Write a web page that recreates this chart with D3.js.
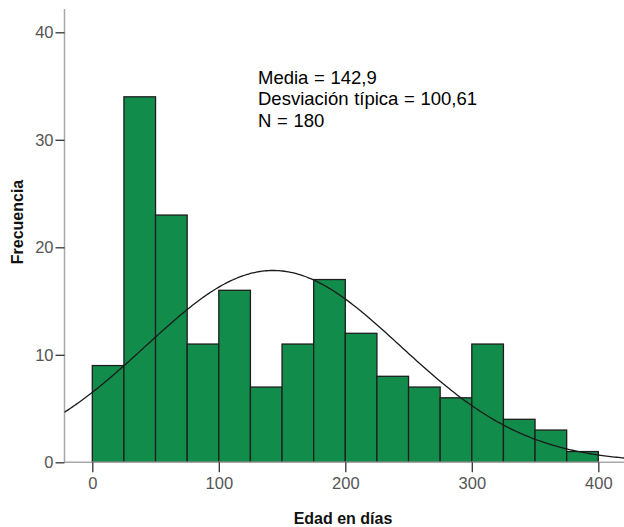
<!DOCTYPE html>
<html>
<head>
<meta charset="utf-8">
<script src="https://cdn.jsdelivr.net/npm/d3@7/dist/d3.min.js"></script>
<style>
html,body{margin:0;padding:0;background:#fff;}
svg{display:block;}
</style>
</head>
<body>
<svg id="chart" width="624" height="527"></svg>
<script>
// Data
const binStarts = [0,25,50,75,100,125,150,175,200,225,250,275,300,325,350,375];
const binWidth = 25;
const counts = [9,34,23,11,16,7,11,17,12,8,7,6,11,4,3,1];
const xTicks = [0,100,200,300,400];
const yTicks = [0,10,20,30,40];
const meanVal = 142.9;
const sdVal = 100.61;
const nVal = 180;
const statLines = ["Media = 142,9","Desviación típica = 100,61","N = 180"];
const xTitle = "Edad en días";
const yTitle = "Frecuencia";

const svg = d3.select("#chart");
const font = "'Liberation Sans', Arial, sans-serif";

const x = d3.scaleLinear().domain([0,400]).range([92.3,598.3]);
const y = d3.scaleLinear().domain([0,40]).range([462.3,32.3]);
const plotLeft = 64.5, plotRight = 624, plotTop = 9;

// bars
svg.append("g").selectAll("rect").data(counts).join("rect")
  .attr("x",(d,i)=>x(binStarts[i]))
  .attr("width",(d,i)=>x(binStarts[i]+binWidth)-x(binStarts[i]))
  .attr("y",d=>y(d))
  .attr("height",d=>y(0)-y(d))
  .attr("fill","#128c4a")
  .attr("stroke","#1e1e1e")
  .attr("stroke-width",1.3);

// axis lines
svg.append("line").attr("x1",plotLeft).attr("x2",plotLeft).attr("y1",plotTop).attr("y2",y(0))
  .attr("stroke","#a8a8a8").attr("stroke-width",1.5);
svg.append("line").attr("x1",plotLeft).attr("x2",plotRight).attr("y1",y(0)).attr("y2",y(0))
  .attr("stroke","#a8a8a8").attr("stroke-width",1.5);

// y axis
const yAxis = svg.append("g").attr("transform",`translate(${plotLeft},0)`)
  .call(d3.axisLeft(y).tickValues(yTicks).tickSize(9).tickPadding(2).tickFormat(d3.format("d")));
yAxis.select(".domain").remove();
yAxis.selectAll(".tick line").attr("stroke","#333").attr("stroke-width",1.3);
yAxis.selectAll(".tick text").attr("fill","#555").style("font-family",font).style("font-size","16.5px");

// x axis
const xAxis = svg.append("g").attr("transform",`translate(0,${y(0)})`)
  .call(d3.axisBottom(x).tickValues(xTicks).tickSize(10).tickPadding(5).tickFormat(d3.format("d")));
xAxis.select(".domain").remove();
xAxis.selectAll(".tick line").attr("stroke","#333").attr("stroke-width",1.3);
xAxis.selectAll(".tick text").attr("fill","#555").style("font-family",font).style("font-size","16.5px");

// normal curve
const scaleFactor = nVal*binWidth/(sdVal*Math.sqrt(2*Math.PI));
const pts = d3.range(plotLeft, plotRight+1, 2).map(px=>{
  const v = x.invert(px);
  const z = (v-meanVal)/sdVal;
  return [px, y(scaleFactor*Math.exp(-0.5*z*z))];
});
svg.append("path").attr("d",d3.line()(pts)).attr("fill","none")
  .attr("stroke","#1a1a1a").attr("stroke-width",1.3);

// stats text
svg.append("g").selectAll("text").data(statLines).join("text")
  .attr("x",258).attr("y",(d,i)=>84+i*21.3)
  .attr("fill","#000").style("font-family",font).style("font-size","18.5px")
  .style("word-spacing","0.5px")
  .text(d=>d);

// titles
svg.append("text").attr("x",343).attr("y",524).attr("text-anchor","middle")
  .style("font-family",font).style("font-size","16px").style("font-weight","bold")
  .attr("fill","#111").text(xTitle);
svg.append("text").attr("transform","translate(23,222) rotate(-90)").attr("text-anchor","middle")
  .style("font-family",font).style("font-size","16px").style("font-weight","bold")
  .attr("fill","#111").text(yTitle);
</script>
</body>
</html>
